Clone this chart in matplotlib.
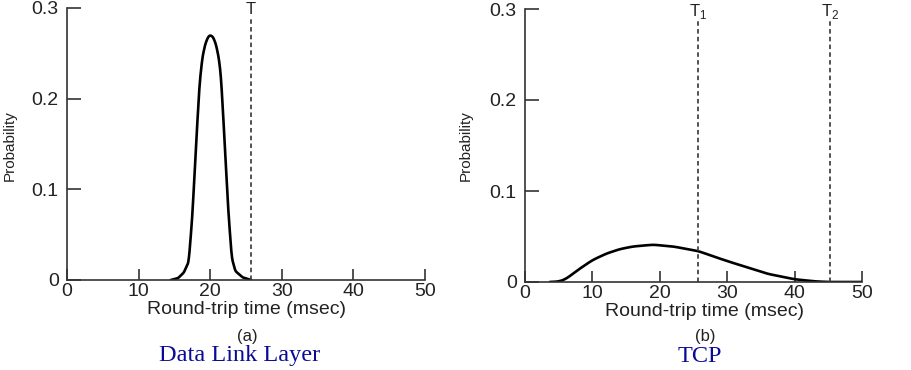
import numpy as np
import matplotlib
matplotlib.use("Agg")
import matplotlib.pyplot as plt
import matplotlib.transforms as mtransforms
from matplotlib.ticker import FixedLocator

plt.rcParams['font.family'] = ['Liberation Sans', 'DejaVu Sans']

# Data link layer: narrow peak around 20 msec
dll_x = [14.5, 15.5, 16.3, 17.0, 17.5, 18.0, 18.5, 18.9, 19.3, 19.7, 20.0,
         20.4, 20.8, 21.2, 21.5, 22.0, 22.5, 23.0, 23.5, 24.5, 25.7]
dll_y = [0.0, 0.002, 0.008, 0.02, 0.07, 0.145, 0.215, 0.245, 0.26, 0.268, 0.27,
         0.268, 0.26, 0.245, 0.225, 0.155, 0.08, 0.025, 0.01, 0.003, 0.0]

# TCP: wide, low distribution
tcp_x = [3.7, 5.0, 6.0, 8.0, 10.0, 12.0, 14.0, 16.0, 19.0, 22.0,
         25.7, 28.0, 30.0, 33.0, 36.0, 40.0, 43.0, 45.0, 50.0]
tcp_y = [0.0, 0.0005, 0.003, 0.014, 0.024, 0.031, 0.036, 0.039, 0.041, 0.039,
         0.034, 0.028, 0.023, 0.016, 0.009, 0.003, 0.0007, 0.0, 0.0]

dll_timeouts = [25.7]
dll_labels = ["T"]
tcp_timeouts = [25.7, 45.3]
tcp_labels = ["T$_\\mathregular{1}$", "T$_\\mathregular{2}$"]

xticks = [0, 10, 20, 30, 40, 50]
yticks = [0, 0.1, 0.2, 0.3]
ytick_labels = ["0", "0.1", "0.2", "0.3"]

fig = plt.figure(figsize=(9.12, 3.70), dpi=100)
W, H = 912, 370


def px_axes(x0, x1, y_top, y_bot):
    return fig.add_axes([x0 / W, 1 - y_bot / H, (x1 - x0) / W, (y_bot - y_top) / H])


ax1 = px_axes(67, 425, 8, 280)
ax2 = px_axes(525, 862, 9, 282)

panels = [
    (ax1, dll_x, dll_y, dll_timeouts, dll_labels),
    (ax2, tcp_x, tcp_y, tcp_timeouts, tcp_labels),
]

gray = "#333333"
for ax, xs, ys, touts, tlabels in panels:
    # dense interpolation + light moving average to get a smooth curve
    xd = np.linspace(xs[0], xs[-1], 400)
    yd = np.interp(xd, xs, ys)
    k = 11
    yd = np.convolve(np.pad(yd, k // 2, mode='edge'), np.ones(k) / k, mode='valid')
    ax.plot(xd, yd, color="black", lw=1.9, solid_capstyle='round')
    trans = mtransforms.blended_transform_factory(ax.transData, fig.transFigure)
    for t, lab in zip(touts, tlabels):
        ax.plot([t, t], [0, 0.29], color="#444444", lw=1.3, ls=(0, (2.5, 1.8)), clip_on=False)
        ax.text(t, 1 - 2 / H, lab, transform=trans, ha='center', va='top',
                fontsize=12, color="#222222", clip_on=False)
    ax.set_xlim(0, 50)
    ax.set_ylim(0, 0.3)
    for s in ("top", "right"):
        ax.spines[s].set_visible(False)
    for s in ("left", "bottom"):
        ax.spines[s].set_color(gray)
        ax.spines[s].set_linewidth(1.2)
    ax.xaxis.set_major_locator(FixedLocator(xticks))
    ax.yaxis.set_major_locator(FixedLocator(yticks))
    ax.set_xticklabels([str(v) for v in xticks])
    ax.set_yticklabels(ytick_labels)
    ax.tick_params(axis='x', direction='in', length=8, width=1.2, color=gray,
                   labelsize=14, labelcolor="#222222", pad=2)
    ax.tick_params(axis='y', direction='in', length=10, width=1.2, color=gray,
                   labelsize=14, labelcolor="#222222", pad=6)
    ax.patch.set_visible(False)


# axis labels and captions placed at pixel positions
def ftext(x, y, s, **kw):
    fig.text(x / W, 1 - y / H, s, ha='center', va='center', **kw)


ftext(247, 310, "Round-trip time (msec)", fontsize=14, color="#222222")
ftext(705, 311, "Round-trip time (msec)", fontsize=14, color="#222222")
ftext(10, 146, "Probability", fontsize=11, color="#222222", rotation=90)
ftext(466, 146, "Probability", fontsize=11, color="#222222", rotation=90)
ftext(247, 337, "(a)", fontsize=12, color="#222222")
ftext(705, 337, "(b)", fontsize=12, color="#222222")
ftext(240, 356, "Data Link Layer", fontsize=17.5, color="#0a0a96", family="Liberation Serif")
ftext(700, 356, "TCP", fontsize=17.5, color="#0a0a96", family="Liberation Serif")

fig.savefig("out.png", dpi=100)
